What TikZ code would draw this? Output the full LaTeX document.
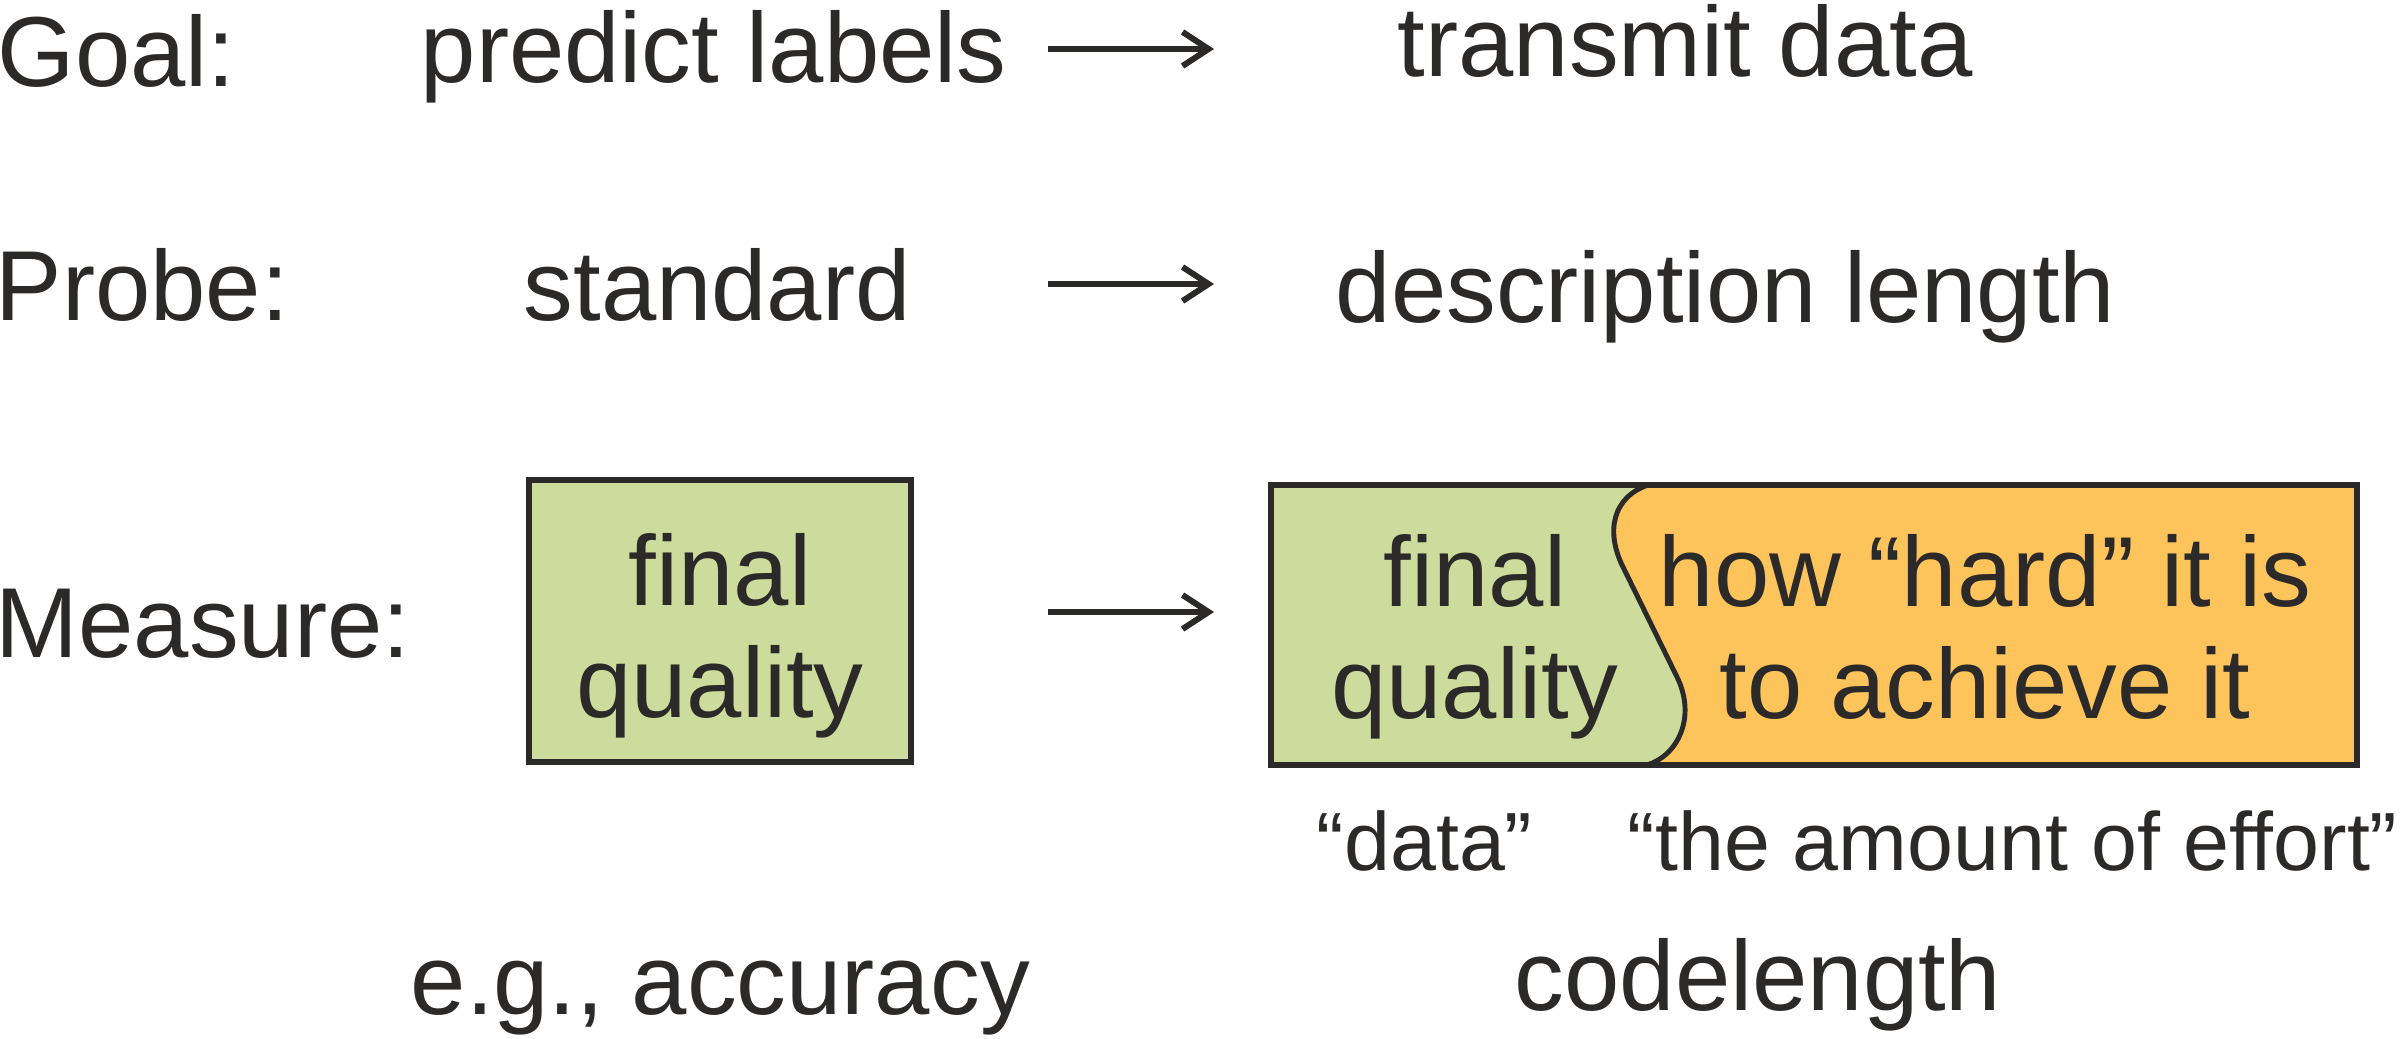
\documentclass[tikz,border=0pt]{standalone}
\usepackage{fontspec}
\setmainfont{Liberation Sans}
\usepackage{xcolor}
\usepackage{tikz}
\usetikzlibrary{arrows.meta}
\definecolor{ink}{RGB}{43,42,41}
\definecolor{qualgreen}{RGB}{205,219,156}
\definecolor{effortorange}{RGB}{253,196,91}
\tikzset{
    rowlabel/.style={anchor=base west, inner sep=0pt, text=ink, font=\fontsize{28.3}{32}\selectfont},
    term/.style={anchor=base west, inner sep=0pt, text=ink, font=\fontsize{28.3}{32}\selectfont},
    note/.style={anchor=base west, inner sep=0pt, text=ink, font=\fontsize{23.5}{27}\selectfont},
    arrow/.style={-{Straight Barb[length=2.6mm, width=3.4mm]}, draw=ink, line width=1.7pt},
    quality/.style={rectangle, draw=ink, line width=1.7pt, fill=qualgreen, minimum width=38.2mm, minimum height=28.2mm},
    boxtext/.style={align=center, inner sep=0pt, text=ink, font=\fontsize{28.3}{31.9}\selectfont},
    wave/.style={draw=ink, line width=1.4pt}
}

\begin{document}
\begin{tikzpicture}[x=0.1mm, y=-0.1mm]
    \useasboundingbox (0,0) rectangle (2403,1038);

    % row labels
    \node[rowlabel] (goal) at (-3,86) {Goal:};
    \node[rowlabel] (probe) at (-5,320) {Probe:};
    \node[rowlabel] (measure) at (-5,657) {Measure:};

    % goal and probe rows
    \node[term] (predict) at (420,82) {predict labels};
    \node[term] (transmit) at (1397,76) {transmit data};
    \node[term] (standard) at (523,320) {standard};
    \node[term] (desc) at (1335,322) {description length};

    % arrows between the columns
    \foreach \y [count=\i] in {49,284,612} {
        \coordinate (from\i) at (1048,\y);
        \coordinate (to\i) at (1214,\y);
        \draw[arrow] (from\i) -- (to\i);
    }

    % standard probe: final quality only
    \node[quality] (lbox) at (720,621) {};
    \node[boxtext] (lqual) at (720,636) {final\\quality};

    % MDL probe: quality + effort
    \coordinate (rtl) at (1271,485);
    \coordinate (rbr) at (2357,765);
    \fill[effortorange] (rtl) rectangle (rbr);
    \fill[qualgreen] (rtl) -- (1648,485) .. controls (1613,497) and (1605,531) .. (1623,567)
        -- (1677,677) .. controls (1697,718) and (1677,756) .. (1647,765) -- (1271,765) -- cycle;
    \draw[wave] (1648,485) .. controls (1613,497) and (1605,531) .. (1623,567)
        -- (1677,677) .. controls (1697,718) and (1677,756) .. (1647,765);
    \draw[ink, line width=1.7pt] (rtl) rectangle (rbr);
    \node[boxtext] (rqual) at (1475,637) {final\\quality};
    \node[boxtext] (hard) at (1985,627) {how “hard” it is\\to achieve it};

    % notes below
    \node[note] (data) at (1316,870) {“data”};
    \node[note] (effort) at (1627,870) {“the amount of effort”};
    \node[term] (acc) at (410,1014) {e.g., accuracy};
    \node[term] (codelen) at (1514,1010) {codelength};
\end{tikzpicture}
\end{document}
